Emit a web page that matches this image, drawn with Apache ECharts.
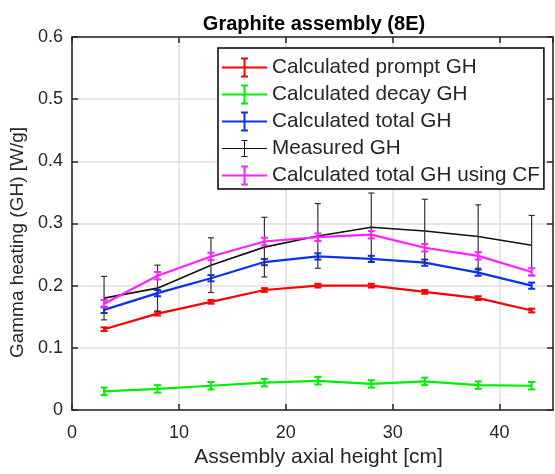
<!DOCTYPE html>
<html>
<head>
<meta charset="utf-8">
<script src="https://cdn.jsdelivr.net/npm/echarts@6/dist/echarts.min.js"></script>
<style>
  html, body { margin: 0; padding: 0; background: #fff; }
  #chart { width: 555px; height: 474px; }
</style>
</head>
<body>
<div id="chart"></div>
<script>
// axial positions [cm]
const heights = [3, 8, 13, 18, 23, 28, 33, 38, 43];

// gamma heating [W/g]
const prompt = [0.130, 0.155, 0.174, 0.193, 0.200, 0.200, 0.190, 0.180, 0.160];
const promptErr = [0.003, 0.003, 0.003, 0.003, 0.003, 0.003, 0.003, 0.003, 0.003];
const decay = [0.030, 0.034, 0.039, 0.044, 0.047, 0.042, 0.046, 0.040, 0.039];
const decayErr = [0.006, 0.006, 0.006, 0.006, 0.006, 0.006, 0.006, 0.006, 0.006];
const total = [0.161, 0.188, 0.212, 0.238, 0.247, 0.243, 0.237, 0.221, 0.200];
const totalErr = [0.005, 0.005, 0.005, 0.005, 0.005, 0.005, 0.005, 0.005, 0.005];
const measured = [0.180, 0.196, 0.233, 0.262, 0.280, 0.294, 0.288, 0.279, 0.265];
const measuredErr = [0.035, 0.037, 0.044, 0.048, 0.052, 0.055, 0.051, 0.051, 0.048];
const totalCF = [0.171, 0.216, 0.247, 0.271, 0.278, 0.282, 0.261, 0.248, 0.222];
const totalCFErr = [0.006, 0.006, 0.006, 0.006, 0.006, 0.006, 0.006, 0.006, 0.006];

const xTicks = [0, 10, 20, 30, 40];
const yTicks = [0, 0.1, 0.2, 0.3, 0.4, 0.5, 0.6];

const FONT = "'Liberation Sans', Arial, Helvetica, sans-serif";
const TXT = "#262626";

// legend glyph: line with an error bar in the middle
const iconThick = "path://M0,9h45v2h-45z M21.5,1h2v18h-2z M19,0h7v2h-7z M19,18h7v2h-7z";
const iconThin = "path://M0,9.5h45v1h-45z M22,2h1v16h-1z M19.5,1.5h6v1h-6z M19.5,17.5h6v1h-6z";

function pairs(ys) {
  return heights.map((x, i) => [x, ys[i]]);
}
function bars(ys, errs) {
  return heights.map((x, i) => [x, ys[i] - errs[i], ys[i] + errs[i]]);
}

function errorBar(color, lw, capW) {
  return function(params, api) {
    var lo = api.coord([api.value(0), api.value(1)]);
    var hi = api.coord([api.value(0), api.value(2)]);
    var h = capW / 2;
    var st = { stroke: color, lineWidth: lw };
    return {
      type: "group",
      children: [
        { type: "line", shape: { x1: lo[0], y1: lo[1], x2: hi[0], y2: hi[1] }, style: st },
        { type: "line", shape: { x1: lo[0] - h, y1: lo[1], x2: lo[0] + h, y2: lo[1] }, style: st },
        { type: "line", shape: { x1: hi[0] - h, y1: hi[1], x2: hi[0] + h, y2: hi[1] }, style: st },
      ],
    };
  };
}

function lineSeries(name, ys, color, width) {
  return {
    name: name,
    type: "line",
    data: pairs(ys),
    showSymbol: false,
    symbol: "none",
    color: color,
    lineStyle: { color: color, width: width },
    z: 3,
  };
}

function barSeries(name, ys, errs, color, lw, capW) {
  return {
    name: name,
    type: "custom",
    data: bars(ys, errs),
    renderItem: errorBar(color, lw, capW),
    encode: { x: 0, y: [1, 2] },
    color: color,
    z: 4,
  };
}

const RED = "#ff0000", GREEN = "#00ee00", BLUE = "#0a32ee", BLACK = "#111111", MAG = "#ff22ff";

var chart = echarts.init(document.getElementById("chart"));

chart.setOption({
  animation: false,
  textStyle: { fontFamily: FONT },
  title: {
    text: "Graphite assembly (8E)",
    left: 309,
    top: 9,
    textAlign: "center",
    textStyle: { fontFamily: FONT, fontSize: 20, fontWeight: "bold", color: "#000" },
  },
  grid: { left: 72, right: 2, top: 37, bottom: 64 },
  legend: {
    orient: "vertical",
    left: 218,
    top: 48,
    padding: [9, 4, 3, 4],
    itemGap: 6,
    itemWidth: 45,
    itemHeight: 20,
    backgroundColor: "#fff",
    borderColor: "#000",
    borderWidth: 1.5,
    textStyle: { fontFamily: FONT, fontSize: 20.7, color: TXT },
    data: [
      { name: "Calculated prompt GH", icon: iconThick },
      { name: "Calculated decay GH", icon: iconThick },
      { name: "Calculated total GH", icon: iconThick },
      { name: "Measured GH", icon: iconThin },
      { name: "Calculated total GH using CF", icon: iconThick },
    ],
    z: 10,
  },
  xAxis: [
    {
      type: "value",
      min: 0,
      max: 45,
      interval: 10,
      name: "Assembly axial height [cm]",
      nameLocation: "middle",
      nameGap: 37,
      nameTextStyle: { fontFamily: FONT, fontSize: 21, color: TXT, padding: [0, 0, 0, 12] },
      axisLine: { show: true, onZero: false, lineStyle: { color: TXT, width: 1.5 } },
      axisTick: { show: true, inside: true, length: 6, lineStyle: { color: TXT, width: 1.5 } },
      axisLabel: {
        fontFamily: FONT, fontSize: 18, color: TXT, margin: 14, showMaxLabel: false,
        formatter: (v) => (xTicks.indexOf(v) >= 0 ? String(v) : ""),
      },
      splitLine: { show: true, lineStyle: { color: "#dedede", width: 1.5 } },
    },
    {
      type: "value",
      position: "top",
      min: 0,
      max: 45,
      interval: 10,
      axisLine: { show: true, onZero: false, lineStyle: { color: TXT, width: 1.5 } },
      axisTick: { show: true, inside: true, length: 6, lineStyle: { color: TXT, width: 1.5 } },
      axisLabel: { show: false },
      splitLine: { show: false },
    },
  ],
  yAxis: [
    {
      type: "value",
      min: 0,
      max: 0.6,
      interval: 0.1,
      name: "Gamma heating (GH) [W/g]",
      nameLocation: "middle",
      nameGap: 35,
      nameTextStyle: { fontFamily: FONT, fontSize: 19, color: TXT, padding: [0, 38, 0, 0] },
      axisLine: { show: true, onZero: false, lineStyle: { color: TXT, width: 1.5 } },
      axisTick: { show: true, inside: true, length: 6, lineStyle: { color: TXT, width: 1.5 } },
      axisLabel: {
        fontFamily: FONT, fontSize: 18, color: TXT, margin: 9,
        formatter: (v) => {
          var s = String(+v.toFixed(1));
          return yTicks.some((t) => Math.abs(t - v) < 1e-9) ? s : "";
        },
      },
      splitLine: { show: true, lineStyle: { color: "#dedede", width: 1.5 } },
    },
    {
      type: "value",
      position: "right",
      min: 0,
      max: 0.6,
      interval: 0.1,
      axisLine: { show: true, onZero: false, lineStyle: { color: TXT, width: 1.5 } },
      axisTick: { show: true, inside: true, length: 6, lineStyle: { color: TXT, width: 1.5 } },
      axisLabel: { show: false },
      splitLine: { show: false },
    },
  ],
  series: [
    lineSeries("Calculated prompt GH", prompt, RED, 2.2),
    barSeries("Calculated prompt GH", prompt, promptErr, RED, 2, 7),
    lineSeries("Calculated decay GH", decay, GREEN, 2.2),
    barSeries("Calculated decay GH", decay, decayErr, GREEN, 2, 7),
    lineSeries("Calculated total GH", total, BLUE, 2.2),
    barSeries("Calculated total GH", total, totalErr, BLUE, 2, 7),
    lineSeries("Measured GH", measured, BLACK, 1.6),
    barSeries("Measured GH", measured, measuredErr, "#333", 1.2, 6),
    lineSeries("Calculated total GH using CF", totalCF, MAG, 2.2),
    barSeries("Calculated total GH using CF", totalCF, totalCFErr, MAG, 2, 7),
  ],
});
</script>
</body>
</html>
